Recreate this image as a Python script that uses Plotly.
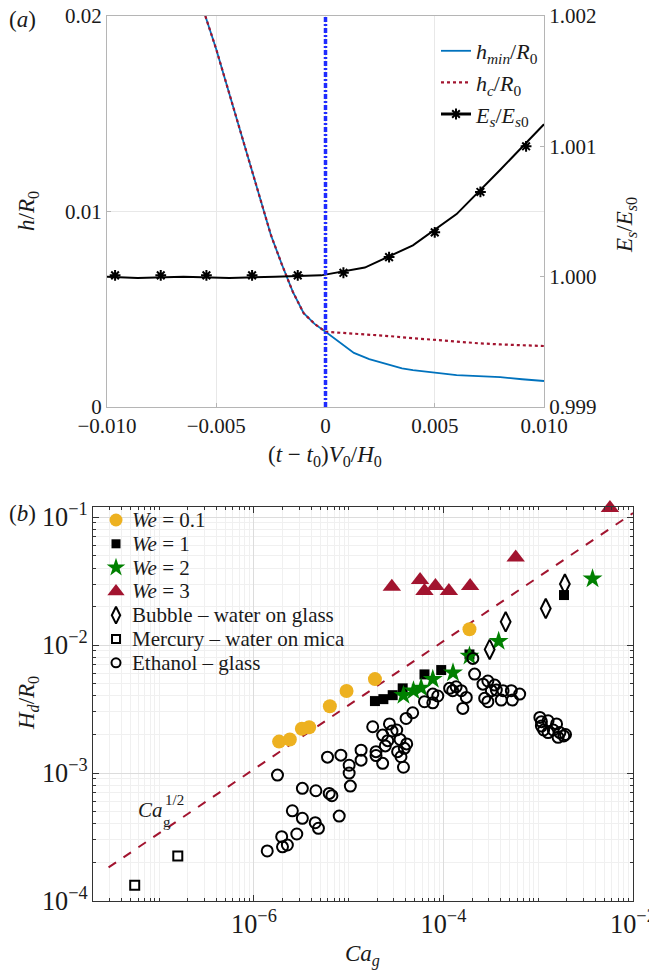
import plotly.graph_objects as go

# ---------------- (a) film thickness and surface energy vs time ----------------
t_h = [-0.0055, -0.0050, -0.0045, -0.0040, -0.0035, -0.0030, -0.0025, -0.0020,
       -0.0015, -0.0010, -0.0005, 0.0]
h_pre = [0.0200, 0.0183, 0.0164, 0.0145, 0.0126, 0.0106, 0.0088, 0.0073,
         0.0059, 0.0048, 0.00425, 0.00385]

t_min_post = [0.0005, 0.0010, 0.0013, 0.0020, 0.0030, 0.0035, 0.0040, 0.0050,
              0.0060, 0.0070, 0.0080, 0.0090, 0.0100]
h_min_post = [0.00343, 0.00301, 0.00277, 0.00245, 0.00211, 0.00197, 0.00189,
              0.00175, 0.00163, 0.00158, 0.00153, 0.00142, 0.00133]

t_c_post = [0.0005, 0.0010, 0.0020, 0.0030, 0.0040, 0.0050, 0.0060, 0.0070,
            0.0080, 0.0090, 0.0100]
h_c_post = [0.00381, 0.00380, 0.00372, 0.00362, 0.00352, 0.00343, 0.00334,
            0.00326, 0.00320, 0.00315, 0.00312]

t_es = [-0.0100, -0.0086, -0.0065, -0.0044, -0.0023, -0.0002, 0.0018, 0.0040,
        0.0060, 0.0080, 0.0100]
es_line = [1.00000, 0.99999, 1.00000, 0.99999, 1.00000, 1.00001, 1.00007,
           1.00024, 1.00048, 1.00082, 1.00117]
t_es_mark = [-0.00963, -0.00754, -0.00545, -0.00336, -0.00127, 0.00082,
             0.00291, 0.00500, 0.00709, 0.00918]
es_mark = [1.00001, 1.00001, 1.00001, 1.00001, 1.00001, 1.00003, 1.00015,
           1.00034, 1.00065, 1.00100]

t_contact = 0.0

# ---------------- (b) dimple height vs capillary number ----------------
ca_we01 = [1.84e-6, 2.39e-6, 3.20e-6, 3.82e-6, 6.32e-6, 9.48e-6, 1.89e-5, 1.88e-4]
hd_we01 = [1.76e-3, 1.83e-3, 2.22e-3, 2.28e-3, 3.33e-3, 4.38e-3, 5.42e-3, 1.33e-2]

ca_we1 = [1.89e-5, 2.32e-5, 2.91e-5, 3.71e-5, 6.30e-5, 9.46e-5, 1.88e-4, 1.87e-3]
hd_we1 = [3.65e-3, 3.78e-3, 4.06e-3, 4.59e-3, 5.90e-3, 6.38e-3, 8.45e-3, 2.46e-2]

ca_we2 = [3.78e-5, 4.82e-5, 5.81e-5, 7.71e-5, 1.26e-4, 1.88e-4, 3.82e-4, 3.74e-3]
hd_we2 = [4.06e-3, 4.40e-3, 4.63e-3, 5.40e-3, 6.08e-3, 8.20e-3, 1.07e-2, 3.30e-2]

ca_we3 = [2.85e-5, 5.66e-5, 6.30e-5, 8.22e-5, 1.14e-4, 1.91e-4, 5.78e-4, 5.71e-3]
hd_we3 = [2.86e-2, 3.22e-2, 2.64e-2, 2.89e-2, 2.64e-2, 2.89e-2, 4.84e-2, 0.118]

ca_bubble = [3.07e-4, 4.53e-4, 1.20e-3, 1.91e-3]
hd_bubble = [9.25e-3, 1.52e-2, 1.93e-2, 3.00e-2]

ca_mercury = [5.51e-8, 1.57e-7]
hd_mercury = [1.33e-4, 2.25e-4]

ca_ethanol = [1.38e-6, 1.77e-6, 1.96e-6, 2.00e-6, 2.25e-6, 2.54e-6, 2.83e-6, 3.24e-6,
              3.24e-6, 4.50e-6, 4.43e-6, 4.79e-6, 6.22e-6, 6.64e-6, 7.93e-6, 1.04e-5,
              5.97e-6, 8.26e-6, 1.01e-5, 1.01e-5, 1.35e-5, 1.35e-5, 1.79e-5, 2.28e-5,
              1.94e-5, 1.94e-5, 2.28e-5, 2.69e-5, 2.86e-5, 3.21e-5, 4.03e-5, 4.73e-5,
              2.58e-5, 2.43e-5, 3.48e-5, 4.09e-5, 3.86e-5, 3.28e-5, 3.56e-5, 3.78e-5,
              6.30e-5, 7.71e-5, 8.71e-5, 7.71e-5, 1.16e-4, 1.25e-4, 1.36e-4, 1.54e-4,
              1.74e-4, 1.60e-4, 2.04e-4, 2.13e-4, 2.61e-4, 2.94e-4, 3.47e-4, 3.20e-4,
              3.61e-4, 2.72e-4, 2.94e-4, 4.25e-4, 5.20e-4, 6.37e-4, 4.07e-4, 5.33e-4,
              1.04e-3, 1.08e-3, 1.27e-3, 1.56e-3, 1.08e-3, 1.14e-3, 1.27e-3, 1.44e-3,
              1.69e-3, 1.62e-3, 1.86e-3, 1.94e-3]
hd_ethanol = [2.46e-4, 9.64e-4, 3.18e-4, 2.65e-4, 2.74e-4, 5.07e-4, 3.34e-4, 7.59e-4,
              4.43e-4, 7.27e-4, 4.09e-4, 3.70e-4, 6.93e-4, 6.65e-4, 4.61e-4, 7.91e-4,
              1.33e-3, 1.38e-3, 1.15e-3, 1.00e-3, 1.51e-3, 1.26e-3, 2.30e-3, 1.98e-3,
              1.47e-3, 1.37e-3, 1.19e-3, 2.42e-3, 2.13e-3, 2.17e-3, 2.67e-3, 2.96e-3,
              1.79e-3, 1.63e-3, 1.83e-3, 1.69e-3, 1.56e-3, 1.47e-3, 1.34e-3, 1.11e-3,
              3.61e-3, 4.14e-3, 4.00e-3, 3.54e-3, 4.59e-3, 4.40e-3, 4.72e-3, 4.40e-3,
              3.90e-3, 3.20e-3, 7.87e-3, 5.93e-3, 4.95e-3, 5.24e-3, 4.87e-3, 4.40e-3,
              4.45e-3, 3.84e-3, 3.61e-3, 4.40e-3, 4.40e-3, 4.14e-3, 3.72e-3, 3.72e-3,
              2.72e-3, 2.52e-3, 2.56e-3, 2.42e-3, 2.33e-3, 2.17e-3, 2.07e-3, 2.17e-3,
              2.07e-3, 1.90e-3, 1.95e-3, 2.00e-3]

# Ca_g^(1/2) reference line, endpoints
ca_ref = [2.92e-8, 1.0e-2]
hd_ref = [1.83e-4, 0.1075]

FONT = "Liberation Serif"
INK = "#1a1a1a"
BLUE = "#0072BD"
RED = "#A2142F"
ORANGE = "#EDB120"
GREEN = "#008000"

W, H = 649, 976
# panel boxes in pixels: left, right, top, bottom
A_BOX = (107, 544, 16, 407)
B_BOX = (93, 633, 507, 901)

fig = go.Figure()

# ---- panel (a) traces ----
fig.add_trace(go.Scatter(
    x=t_h + t_min_post, y=h_pre + h_min_post, mode="lines",
    line=dict(color=BLUE, width=1.8),
    name="<i>h</i><sub><i>min</i></sub>/<i>R</i><sub>0</sub>",
    xaxis="x", yaxis="y", legend="legend"))
fig.add_trace(go.Scatter(
    x=t_h + t_c_post, y=h_pre + h_c_post, mode="lines",
    line=dict(color=RED, width=2.2, dash="dot"),
    name="<i>h</i><sub><i>c</i></sub>/<i>R</i><sub>0</sub>",
    xaxis="x", yaxis="y", legend="legend"))
fig.add_trace(go.Scatter(
    x=t_es, y=es_line, mode="lines", line=dict(color="black", width=2),
    showlegend=False, xaxis="x", yaxis="y2"))
fig.add_trace(go.Scatter(
    x=t_es_mark, y=es_mark, mode="markers",
    marker=dict(symbol="asterisk-open", size=9, color="black",
                line=dict(color="black", width=2)),
    showlegend=False, xaxis="x", yaxis="y2"))
fig.add_trace(go.Scatter(
    x=[None], y=[None], mode="lines+markers",
    line=dict(color="black", width=3),
    marker=dict(symbol="asterisk-open", size=9, color="black",
                line=dict(color="black", width=2)),
    name="<i>E</i><sub><i>s</i></sub>/<i>E</i><sub><i>s</i>0</sub>",
    xaxis="x", yaxis="y2", legend="legend"))

# ---- panel (b) traces ----
fig.add_trace(go.Scatter(
    x=ca_ref, y=hd_ref, mode="lines", line=dict(color=RED, width=2, dash="dash"),
    showlegend=False, xaxis="x2", yaxis="y3"))

series_b = [
    (ca_we01, hd_we01, "<i>We</i> = 0.1", "circle", 14, 13, ORANGE, False),
    (ca_we1, hd_we1, "<i>We</i> = 1", "square", 10, 9, "black", False),
    (ca_we2, hd_we2, "<i>We</i> = 2", "star", 15, 14, GREEN, False),
    (ca_we3, hd_we3, "<i>We</i> = 3", "triangle-up", 16, 15, RED, False),
    (ca_bubble, hd_bubble, "Bubble – water on glass", "diamond-tall-open", 14, 12, "black", True),
    (ca_mercury, hd_mercury, "Mercury – water on mica", "square-open", 9, 8, "black", True),
    (ca_ethanol, hd_ethanol, "Ethanol – glass", "circle-open", 11, 9, "black", True),
]

def marker(symbol, size, color, is_open):
    if is_open:
        return dict(symbol=symbol, size=size, color=color,
                    line=dict(color=color, width=2))
    return dict(symbol=symbol, size=size, color=color, line=dict(width=0))

for x, y, name, sym, size, _, color, is_open in series_b:
    fig.add_trace(go.Scatter(x=x, y=y, mode="markers", name=name,
                             marker=marker(sym, size, color, is_open),
                             showlegend=False, cliponaxis=False,
                             xaxis="x2", yaxis="y3"))

# legend of panel (b): swatches on an overlaid unit frame, labels as annotations
leg_x_px, leg_y0_px, leg_dy_px = 116, 520, 23.8
bl, br, bt, bb = B_BOX
leg_u = [(leg_x_px - bl) / (br - bl)] * len(series_b)
leg_v = [(bb - (leg_y0_px + i * leg_dy_px)) / (bb - bt) for i in range(len(series_b))]
for i, (_, _, name, sym, _, lsize, color, is_open) in enumerate(series_b):
    fig.add_trace(go.Scatter(x=[leg_u[i]], y=[leg_v[i]], mode="markers",
                             marker=marker(sym, lsize, color, is_open),
                             showlegend=False, hoverinfo="skip",
                             xaxis="x3", yaxis="y4"))

tickfont = dict(family=FONT, size=21, color=INK)
light = "#b5b5b5"

def dom_x(box):
    return [box[0] / W, box[1] / W]

def dom_y(box):
    return [1 - box[3] / H, 1 - box[2] / H]

fig.update_layout(
    width=W, height=H, margin=dict(l=0, r=0, t=0, b=0, autoexpand=False),
    paper_bgcolor="white", plot_bgcolor="white",
    font=dict(family=FONT, size=21, color=INK),
    xaxis=dict(domain=dom_x(A_BOX), anchor="y", range=[-0.01, 0.01],
               tickvals=[-0.01, -0.005, 0, 0.005, 0.01],
               ticktext=["−0.010", "−0.005", "0", "0.005", "0.010"],
               showgrid=True, gridcolor="#e8e8e8", zeroline=False,
               showline=True, linecolor=light, mirror=True, automargin=False,
               ticks="inside", ticklen=4, tickcolor=light, tickfont=tickfont),
    yaxis=dict(domain=dom_y(A_BOX), anchor="x", range=[0, 0.02],
               tickvals=[0, 0.01, 0.02], ticktext=["0", "0.01", "0.02"],
               showgrid=True, gridcolor="#e8e8e8", zeroline=False,
               showline=True, linecolor=light, mirror=True, automargin=False,
               ticks="inside", ticklen=4, tickcolor=light, tickfont=tickfont),
    yaxis2=dict(overlaying="y", side="right", anchor="x", range=[0.999, 1.002],
                tickvals=[0.999, 1.000, 1.001, 1.002],
                ticktext=["0.999", "1.000", "1.001", "1.002"],
                showgrid=False, zeroline=False, showline=True, linecolor=light,
                automargin=False,
                ticks="inside", ticklen=4, tickcolor=light, tickfont=tickfont),
    xaxis2=dict(domain=dom_x(B_BOX), anchor="y3", type="log",
                range=[-7.699, -2], tickmode="linear", tick0=0, dtick=2,
                exponentformat="power", showexponent="all",
                showgrid=True, gridcolor="#dcdcdc", zeroline=False,
                minor=dict(dtick="D1", showgrid=True, gridcolor="#f0f0f0",
                           ticks="inside", ticklen=3, tickcolor="#333"),
                showline=True, linecolor="#333", linewidth=1.2, mirror="allticks",
                automargin=False, ticklabeloverflow="allow",
                ticks="inside", ticklen=6, tickcolor="#333", tickfont=tickfont,
                ticklabelstandoff=0),
    yaxis3=dict(domain=dom_y(B_BOX), anchor="x2", type="log",
                range=[-4, -0.921], tickmode="linear", tick0=0, dtick=1,
                exponentformat="power", showexponent="all",
                showgrid=True, gridcolor="#dcdcdc", zeroline=False,
                minor=dict(dtick="D1", showgrid=True, gridcolor="#f0f0f0",
                           ticks="inside", ticklen=3, tickcolor="#333"),
                showline=True, linecolor="#333", linewidth=1.2, mirror="allticks",
                automargin=False, ticklabeloverflow="allow",
                ticks="inside", ticklen=6, tickcolor="#333", tickfont=tickfont),
    xaxis3=dict(overlaying="x2", anchor="y4", range=[0, 1], visible=False,
                fixedrange=True, automargin=False),
    yaxis4=dict(overlaying="y3", anchor="x3", range=[0, 1], visible=False,
                fixedrange=True, automargin=False),
    legend=dict(x=436/W, y=1-30/H, xanchor="left", yanchor="top",
                bgcolor="rgba(255,255,255,0)", font=dict(family=FONT, size=22),
                itemwidth=30, tracegroupgap=0),
    shapes=[dict(type="line", xref="x", yref="y domain", x0=t_contact, x1=t_contact,
                 y0=0, y1=1, line=dict(color="#1f2bff", width=3.5,
                                       dash="5px,2px,2px,2px"))],
)

ann = [
    dict(text="(<i>a</i>)", x=22, y=20, size=23),
    dict(text="(<i>b</i>)", x=22, y=513, size=23),
    dict(text="<i>h</i>/<i>R</i><sub>0</sub>", x=28, y=211, size=23, angle=-90),
    dict(text="<i>E</i><sub><i>s</i></sub>/<i>E</i><sub><i>s</i>0</sub>", x=626, y=225, size=23, angle=-90),
    dict(text="(<i>t</i> − <i>t</i><sub>0</sub>)<i>V</i><sub>0</sub>/<i>H</i><sub>0</sub>",
         x=325, y=456, size=23),
    dict(text="<i>H</i><sub><i>d</i></sub>/<i>R</i><sub>0</sub>", x=28, y=703, size=23, angle=-90),
    dict(text="<i>Ca</i><sub><i>g</i></sub>", x=362, y=955, size=23),
    dict(text="<i>Ca</i>", x=150, y=810, size=21),
    dict(text="g", x=167, y=822, size=15),
    dict(text="1/2", x=174, y=800, size=15),
]
annotations = [
    dict(text=a["text"], x=a["x"] / W, y=1 - a["y"] / H, xref="paper", yref="paper",
         showarrow=False, xanchor="center", yanchor="middle",
         textangle=a.get("angle", 0),
         font=dict(family=FONT, size=a["size"], color=INK))
    for a in ann]
# legend labels of panel (b)
for i, s in enumerate(series_b):
    annotations.append(dict(
        text=s[2], x=130 / W, y=1 - (leg_y0_px + i * leg_dy_px) / H,
        xref="paper", yref="paper", showarrow=False, xanchor="left",
        yanchor="middle", font=dict(family=FONT, size=21, color=INK)))
fig.update_layout(annotations=annotations)

fig.write_html("out.html")
